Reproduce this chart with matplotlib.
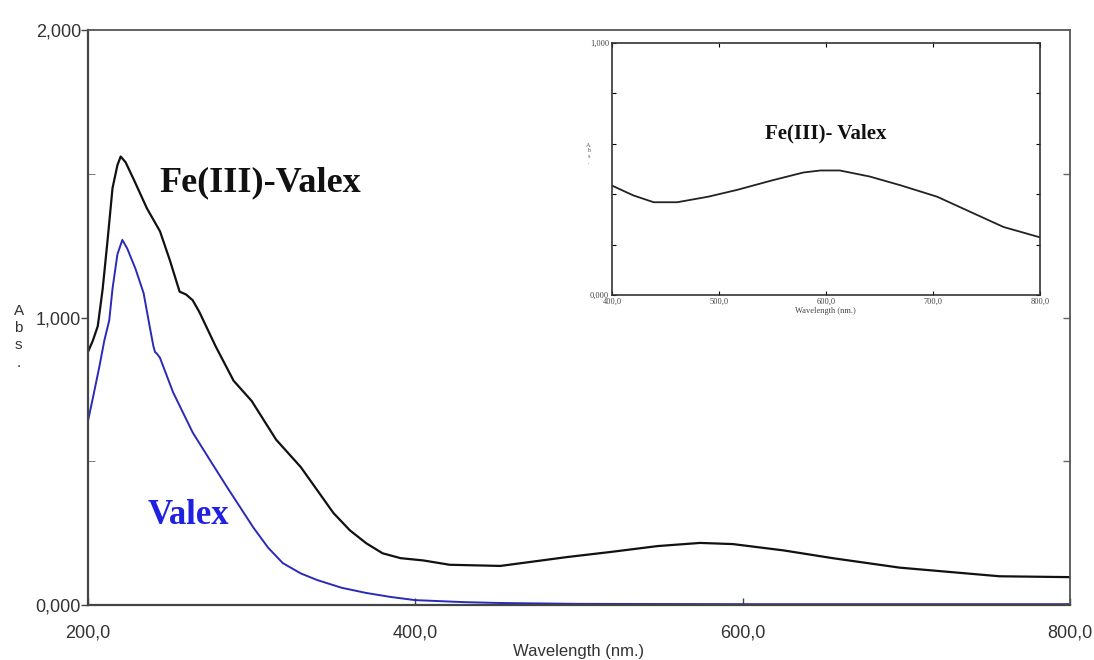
import matplotlib.pyplot as plt
from matplotlib.ticker import FuncFormatter, MultipleLocator

# spectra (wavelength nm, absorbance)
fe_wl = [200, 203, 206, 209, 212, 215, 218, 220, 223, 228, 236, 244, 250, 256, 260,
         264, 268, 278, 289, 300, 315, 330, 340, 350, 360, 370, 380, 391, 405, 421,
         452, 493, 520, 548, 574, 594, 625, 655, 696, 757, 800]
fe_abs = [0.88, 0.92, 0.97, 1.10, 1.27, 1.45, 1.53, 1.56, 1.54, 1.48, 1.38, 1.30, 1.20,
          1.09, 1.08, 1.06, 1.02, 0.90, 0.78, 0.71, 0.575, 0.48, 0.40, 0.32, 0.26, 0.215,
          0.18, 0.163, 0.155, 0.14, 0.136, 0.167, 0.185, 0.205, 0.216, 0.212, 0.19,
          0.163, 0.13, 0.10, 0.097]

valex_wl = [200, 203, 207, 210, 213, 215, 218, 221, 224, 229, 234, 238, 240, 241, 242,
            244, 248, 252, 258, 264, 275, 285, 293, 301, 310, 319, 330, 340, 355, 370,
            385, 400, 430, 452, 500, 600, 700, 800]
valex_abs = [0.64, 0.72, 0.83, 0.92, 0.99, 1.10, 1.22, 1.27, 1.24, 1.17, 1.085, 0.96,
             0.90, 0.88, 0.875, 0.86, 0.80, 0.74, 0.67, 0.60, 0.50, 0.41, 0.34, 0.27,
             0.20, 0.146, 0.11, 0.087, 0.06, 0.042, 0.028, 0.017, 0.01, 0.007, 0.004,
             0.003, 0.003, 0.003]

# inset: visible band of Fe(III)-Valex
inset_wl = [400, 420, 439, 461, 490, 517, 550, 579, 595, 613, 641, 670, 704, 735, 766, 800]
inset_abs = [0.434, 0.395, 0.368, 0.368, 0.39, 0.417, 0.455, 0.486, 0.494, 0.494, 0.47,
             0.435, 0.39, 0.33, 0.27, 0.229]

sans = ['Liberation Sans', 'DejaVu Sans']
serif = ['Liberation Serif', 'DejaVu Serif']
tick_col = '#333333'

fig = plt.figure(figsize=(10.94, 6.60), dpi=100)
ax = fig.add_axes([0.0804, 0.0833, 0.8976, 0.8712])

ax.plot(fe_wl, fe_abs, color='#111111', lw=1.6)
ax.plot(valex_wl, valex_abs, color='#2a2ab8', lw=1.4)

ax.set_xlim(200, 800)
ax.set_ylim(0, 2.0)
ax.xaxis.set_major_locator(MultipleLocator(200))
ax.yaxis.set_major_locator(MultipleLocator(1.0))
ax.yaxis.set_minor_locator(MultipleLocator(0.5))
ax.xaxis.set_major_formatter(FuncFormatter(lambda v, p: f'{v:.1f}'.replace('.', ',')))
ax.yaxis.set_major_formatter(FuncFormatter(lambda v, p: f'{v:.3f}'.replace('.', ',')))
ax.tick_params(axis='both', which='major', labelsize=13, labelcolor=tick_col,
               length=5, width=1, color='#444444')
ax.tick_params(axis='x', which='major', direction='in', pad=14, top=False)
ax.tick_params(axis='y', which='major', direction='out', pad=0, right=False)
ax.tick_params(axis='y', which='minor', direction='in', length=5, right=False, color='#666666')
for lab in ax.get_xticklabels() + ax.get_yticklabels():
    lab.set_family(sans)
for side in ['left', 'bottom']:
    ax.spines[side].set_color('#444444')
    ax.spines[side].set_linewidth(1.6)
for side in ['top', 'right']:
    ax.spines[side].set_color('#555555')
    ax.spines[side].set_linewidth(1.3)

# right-hand inward ticks
sec = ax.secondary_yaxis('right')
sec.set_yticks([0.5, 1.0, 1.5])
sec.tick_params(direction='in', length=5, width=1, color='#666666', labelright=False)
sec.spines['right'].set_visible(False)

ax.set_xlabel('Wavelength (nm.)', fontsize=12, color=tick_col, family=sans, labelpad=2)
fig.text(0.017, 0.49, 'A\nb\ns\n.', fontsize=11, color=tick_col, family=sans,
         ha='center', va='center', linespacing=1.3)

ax.text(0.073, 0.735, 'Fe(III)-Valex', transform=ax.transAxes, fontsize=26,
        fontweight='bold', family=serif, color='#111111', ha='left', va='center')
ax.text(0.061, 0.155, 'Valex', transform=ax.transAxes, fontsize=25,
        fontweight='bold', family=serif, color='#2020e0', ha='left', va='center')

# inset
ins = fig.add_axes([0.5594, 0.553, 0.391, 0.382])
ins.plot(inset_wl, inset_abs, color='#222222', lw=1.3)
ins.set_xlim(400, 800)
ins.set_ylim(0, 1.0)
ins.xaxis.set_major_locator(MultipleLocator(100))
ins.yaxis.set_major_locator(MultipleLocator(1.0))
ins.yaxis.set_minor_locator(MultipleLocator(0.2))
ins.xaxis.set_major_formatter(FuncFormatter(lambda v, p: f'{v:.1f}'.replace('.', ',')))
ins.yaxis.set_major_formatter(FuncFormatter(lambda v, p: f'{v:.3f}'.replace('.', ',')))
ins.tick_params(axis='both', which='both', direction='in', top=True, right=True,
                labelsize=6, labelcolor='#444444', length=3, width=0.8, pad=2)
for lab in ins.get_xticklabels() + ins.get_yticklabels():
    lab.set_family(serif)
for side in ins.spines.values():
    side.set_linewidth(1.2)
    side.set_color('#333333')
ins.set_xlabel('Wavelength (nm.)', fontsize=6, color='#444444', family=serif, labelpad=1)
ins.text(-0.055, 0.56, 'A\nb\ns\n.', transform=ins.transAxes, fontsize=4.5,
         color='#555555', family=serif, ha='center', va='center')
ins.text(0.5, 0.64, 'Fe(III)- Valex', transform=ins.transAxes, fontsize=15,
         fontweight='bold', family=serif, color='#111111', ha='center', va='center')

fig.savefig('out.png', dpi=100)
